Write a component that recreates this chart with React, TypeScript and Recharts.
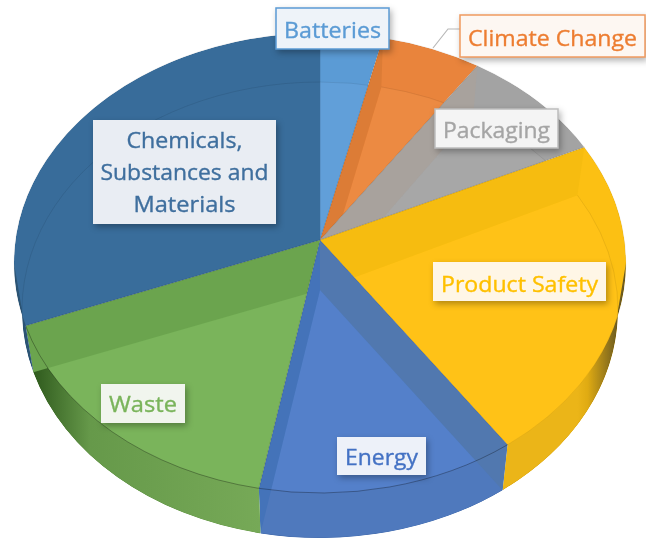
import { Pie, PieChart } from "recharts";

// clockwise from Batteries, share of the pie in percent
const topics = ["Batteries", "Climate Change", "Packaging", "Product Safety", "Energy", "Waste", "Chemicals, Substances and Materials"];
const shares = [3.3, 5.3, 8.0, 22.9, 13.7, 17.4, 29.4];

const data = topics.map((name, i) => ({ name, value: shares[i] }));

// the pie is seen in perspective: the bottom disc is a bit smaller and lower than the top one
const RIM_Y = 23;
const RY_RATIO = 230 / 306;
const DROP = 50;
const FLOOR_RX = 298;
const FLOOR_RY = 228;
const FLOOR_Y = 70;

const paint: Record<string, any> = {
  Batteries: { top: "#5b9bd5", floor: "#619fd9", text: "#5b9bd5", box: "#eef3f9", border: "#5b9bd5" },
  "Climate Change": { top: "#e9843c", floor: "#ec8a42", start: "#dc7c36", text: "#ed7d31", box: "#fdf7f2", border: "#f09a5f" },
  Packaging: { top: "#a3a3a3", floor: "#a7a7a7", start: "#a8a29d", text: "#a5a5a5", box: "#f4f4f4", border: "#bdbdbd" },
  "Product Safety": { top: "#fcc013", floor: "#ffc217", start: "#f6bc10", side: ["#ebb518", "#e0ab12", "#6b5a20"], text: "#ffc000", box: "#fff6e6" },
  Energy: { top: "#4f7dc4", floor: "#5480ca", start: "#5178af", end: "#4473b9", side: ["#4f79bd", "#4f79bd", "#4f79bd"], text: "#4472c4", box: "#edf1f9" },
  Waste: { top: "#7ab45b", floor: "#7ab45b", end: "#6ba44e", side: ["#2f5a1d", "#66994a", "#76a957"], text: "#7ab45b", box: "#f1f5ee" },
  "Chemicals, Substances and Materials": { top: "#386c9a", floor: "#396d9b", side: ["#1f3f5a", "#2c5474", "#2c5474"], text: "#3f6f9e", box: "#e9edf3" },
};

const labelBoxes: Record<string, any> = {
  Batteries: { x: 276, y: 8, w: 113, h: 41, lines: ["Batteries"], ys: [29], widths: [97] },
  "Climate Change": { x: 460, y: 15, w: 185, h: 42, lines: ["Climate Change"], ys: [37], widths: [169] },
  Packaging: { x: 435, y: 109, w: 123, h: 39, lines: ["Packaging"], ys: [129], widths: [107] },
  "Product Safety": { x: 433, y: 262, w: 173, h: 39, lines: ["Product Safety"], ys: [283], widths: [157] },
  Energy: { x: 337, y: 437, w: 89, h: 38, lines: ["Energy"], ys: [456], widths: [73] },
  Waste: { x: 101, y: 384, w: 84, h: 39, lines: ["Waste"], ys: [403], widths: [68] },
  "Chemicals, Substances and Materials": {
    x: 93, y: 120, w: 183, h: 104,
    lines: ["Chemicals,", "Substances and", "Materials"],
    ys: [139, 171, 203],
    widths: [116, 168, 102],
  },
};

const rad = (deg: number) => (deg * Math.PI) / 180;

const rimPoint = (e: any, deg: number) => [e.cx + e.rx * Math.sin(rad(deg)), e.cy - e.ry * Math.cos(rad(deg))];

const arcTo = (e: any, a: number, b: number) => {
  const [x, y] = rimPoint(e, b);
  return `A ${e.rx} ${e.ry} 0 ${b - a > 180 ? 1 : 0} 1 ${x} ${y}`;
};

const wedge = (apex: number[], e: any, a: number, b: number) => {
  const [x, y] = rimPoint(e, a);
  return `M ${apex[0]} ${apex[1]} L ${x} ${y} ${arcTo(e, a, b)} Z`;
};

const wall = (apex: number[], floorApex: number[], top: any, floor: any, deg: number) => {
  const p = rimPoint(top, deg);
  const q = rimPoint(floor, deg);
  return `M ${apex[0]} ${apex[1]} L ${p[0]} ${p[1]} L ${q[0]} ${q[1]} L ${floorApex[0]} ${floorApex[1]} Z`;
};

// outer wall, only the front half of the disc shows one
const outerWall = (top: any, floor: any, a: number, b: number) => {
  const from = Math.max(a, 90);
  const to = Math.min(b, 270);
  if (to <= from) return null;
  const p = rimPoint(top, from);
  const q = rimPoint(floor, to);
  const back = rimPoint(floor, from);
  return `M ${p[0]} ${p[1]} ${arcTo(top, from, to)} L ${q[0]} ${q[1]} A ${floor.rx} ${floor.ry} 0 ${to - from > 180 ? 1 : 0} 0 ${back[0]} ${back[1]} Z`;
};

function Slice(props: any) {
  const { cx, cy, outerRadius, startAngle, endAngle, name, index } = props;
  const a = 90 - startAngle;
  const b = 90 - endAngle;
  const c = paint[name];
  const apex = [cx, cy];
  const floorApex = [cx, cy + DROP];
  const top = { cx, cy: cy + RIM_Y, rx: outerRadius, ry: outerRadius * RY_RATIO };
  const floor = { cx, cy: cy + FLOOR_Y, rx: FLOOR_RX, ry: FLOOR_RY };
  const topPath = wedge(apex, top, a, b);
  const side = outerWall(top, floor, a, b);
  const clipId = `slice-clip-${index}`;
  const gradId = `slice-side-${index}`;

  return (
    <g>
      <defs>
        <clipPath id={clipId}>
          <path d={topPath} />
          {side && <path d={side} />}
        </clipPath>
        {c.side && (
          <linearGradient id={gradId} gradientUnits="userSpaceOnUse" x1={rimPoint(floor, b > 180 ? b : a)[0]} x2={rimPoint(floor, b > 180 ? a : Math.max(a, 90))[0]} y1="0" y2="0">
            <stop offset="0" stopColor={c.side[0]} />
            <stop offset="0.25" stopColor={c.side[1]} />
            <stop offset="1" stopColor={c.side[2]} />
          </linearGradient>
        )}
      </defs>
      <g clipPath={`url(#${clipId})`}>
        <path d={topPath} fill={c.top} />
        <path d={wedge(floorApex, floor, a, b)} fill={c.floor} />
        {side && <path d={side} fill={c.side ? `url(#${gradId})` : c.top} />}
        {c.start && <path d={wall(apex, floorApex, top, floor, a)} fill={c.start} />}
        {c.end && <path d={wall(apex, floorApex, top, floor, b)} fill={c.end} />}
        <path d={`M ${rimPoint(floor, a)[0]} ${rimPoint(floor, a)[1]} ${arcTo(floor, a, b)}`} fill="none" stroke="#000" strokeOpacity={0.08} />
      </g>
      <path d={`M ${rimPoint(top, a)[0]} ${rimPoint(top, a)[1]} ${arcTo(top, a, b)}`} fill="none" stroke="#000" strokeOpacity={a >= 90 && b <= 270 ? 0.3 : 0.06} />
      <path d={`M ${apex[0]} ${apex[1]} L ${rimPoint(top, a)[0]} ${rimPoint(top, a)[1]}`} stroke="#000" strokeOpacity={0.14} />
    </g>
  );
}

function SliceLabel(props: any) {
  const box = labelBoxes[props.name];
  const c = paint[props.name];
  return (
    <g>
      {props.name === "Climate Change" && <path d="M 433 48 L 448 29 L 460 29" fill="none" stroke="#b8b8b8" strokeWidth={1.2} />}
      <rect
        x={box.x}
        y={box.y}
        width={box.w}
        height={box.h}
        fill={c.box}
        stroke={c.border || "none"}
        strokeWidth={c.border ? 1.5 : 0}
        style={{ filter: "drop-shadow(2px 3px 3px rgba(0,0,0,0.3))" }}
      />
      {box.lines.map((line: string, i: number) => (
        <text
          key={line}
          x={box.x + box.w / 2}
          y={box.ys[i]}
          textAnchor="middle"
          dominantBaseline="central"
          textLength={box.widths[i]}
          lengthAdjust="spacingAndGlyphs"
          fontFamily="'Open Sans', sans-serif"
          fontSize={22}
          fill={c.text}
          stroke={c.text}
          strokeWidth={0.35}
        >
          {line}
        </text>
      ))}
    </g>
  );
}

export default function App() {
  return (
    <div style={{ position: "absolute", left: 0, top: 0, width: 646, height: 539, background: "#fff", filter: "blur(0.5px)" }}>
      <PieChart width={646} height={539} margin={{ top: 0, right: 0, bottom: 0, left: 0 }}>
        <Pie
          data={data}
          dataKey="value"
          nameKey="name"
          cx={320}
          cy={240}
          outerRadius={306}
          startAngle={90}
          endAngle={-270}
          stroke="none"
          shape={Slice}
          label={SliceLabel}
          labelLine={false}
          isAnimationActive={false}
        />
      </PieChart>
    </div>
  );
}
